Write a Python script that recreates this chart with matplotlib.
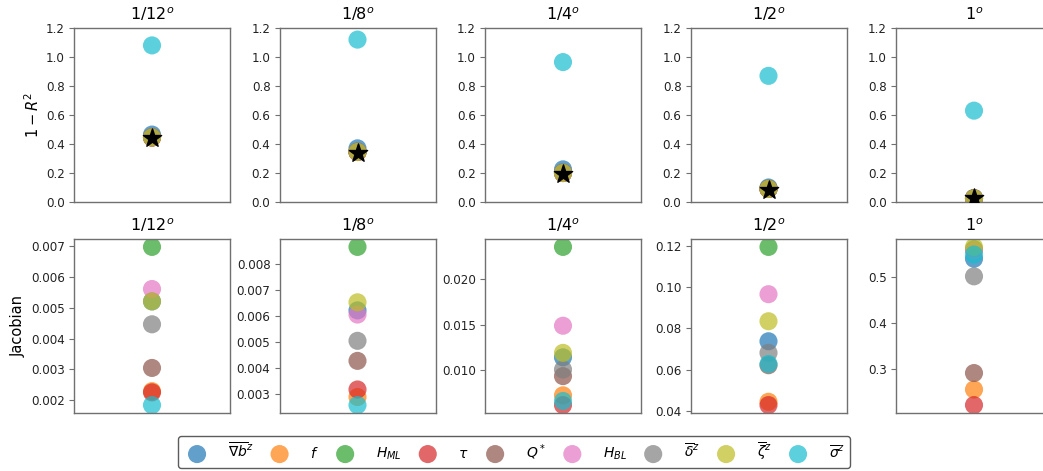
import matplotlib
matplotlib.use("Agg")
import matplotlib.pyplot as plt
from matplotlib.ticker import MultipleLocator

resolutions = ["1/12", "1/8", "1/4", "1/2", "1"]
features = [r"$\overline{\nabla b}^z$", r"$f$", r"$H_{ML}$", r"$\tau$", r"$Q^*$",
            r"$H_{BL}$", r"$\overline{\delta}^z$", r"$\overline{\zeta}^z$",
            r"$\overline{\sigma}^z$"]
colors = ["#1f77b4", "#ff7f0e", "#2ca02c", "#d62728", "#8c564b",
          "#e377c2", "#7f7f7f", "#bcbd22", "#17becf"]

# 1 - R^2 of each single-feature model, one list per resolution
r2_loss = {
    "1/12": [0.465, 0.445, 0.445, 0.445, 0.445, 0.445, 0.45, 0.445, 1.08],
    "1/8":  [0.37, 0.345, 0.345, 0.345, 0.345, 0.345, 0.35, 0.345, 1.12],
    "1/4":  [0.225, 0.20, 0.20, 0.20, 0.20, 0.20, 0.205, 0.20, 0.965],
    "1/2":  [0.10, 0.09, 0.09, 0.09, 0.09, 0.09, 0.092, 0.09, 0.87],
    "1":    [0.028, 0.025, 0.025, 0.025, 0.025, 0.025, 0.026, 0.025, 0.63],
}
# 1 - R^2 of the model using all features
r2_all = [0.44, 0.34, 0.195, 0.085, 0.025]

# mean absolute Jacobian of each feature, one list per resolution
jacobian = {
    "1/12": [0.0052, 0.0023, 0.00696, 0.00226, 0.00305, 0.0056, 0.00446, 0.0052, 0.00185],
    "1/8":  [0.00621, 0.00288, 0.00865, 0.00317, 0.00427, 0.00605, 0.00504, 0.00652, 0.00257],
    "1/4":  [0.01138, 0.00718, 0.02358, 0.0061, 0.0093, 0.01487, 0.01003, 0.01187, 0.00655],
    "1/2":  [0.0738, 0.0445, 0.1195, 0.0429, 0.0622, 0.0966, 0.0682, 0.0835, 0.0628],
    "1":    [0.5396, 0.2564, 0.56, 0.2226, 0.292, 0.558, 0.5015, 0.5652, 0.5487],
}
jacobian_tick_step = {"1/12": 0.001, "1/8": 0.001, "1/4": 0.005, "1/2": 0.02, "1": 0.1}

W, H = 1043, 471
fig = plt.figure(figsize=(W / 100, H / 100), dpi=100)

lefts = [74, 279.5, 485, 690.5, 896]
ax_w, ax_h = 156, 174
top_row_top, bot_row_top = 28, 239

spine_color = "#707070"
ms = 170
alpha = 0.7


def style(ax):
    for s in ax.spines.values():
        s.set_color(spine_color)
        s.set_linewidth(1.0)
    ax.set_xticks([])
    ax.tick_params(axis="y", colors=spine_color, labelcolor="#222222", labelsize=8.6,
                   pad=3)


handles = []
for i, res in enumerate(resolutions):
    ax = fig.add_axes([lefts[i] / W, (H - top_row_top - ax_h) / H, ax_w / W, ax_h / H])
    for j, name in enumerate(features):
        h = ax.scatter([0], [r2_loss[res][j]], s=ms, color=colors[j], alpha=alpha,
                       edgecolors="none", label=name)
        if i == 0:
            handles.append(h)
    ax.scatter([0], [r2_all[i]], marker="*", s=190, color="black", zorder=5)
    ax.set_ylim(0, 1.2)
    ax.set_yticks([0.0, 0.2, 0.4, 0.6, 0.8, 1.0, 1.2])
    ax.set_title(res + r"$^o$", fontsize=11.5)
    style(ax)
    if i == 0:
        ax.set_ylabel(r"$1-R^2$", fontsize=10.5, labelpad=3)

    bx = fig.add_axes([lefts[i] / W, (H - bot_row_top - ax_h) / H, ax_w / W, ax_h / H])
    for j, name in enumerate(features):
        bx.scatter([0], [jacobian[res][j]], s=ms, color=colors[j], alpha=alpha,
                   edgecolors="none")
    bx.yaxis.set_major_locator(MultipleLocator(jacobian_tick_step[res]))
    bx.set_title(res + r"$^o$", fontsize=11.5)
    style(bx)
    if i == 0:
        bx.set_ylabel("Jacobian", fontsize=10.5, labelpad=4)

leg = fig.legend(handles=handles, labels=features, loc="center",
                 bbox_to_anchor=(514 / W, (H - 452) / H), ncol=9, fontsize=10,
                 frameon=True, edgecolor="#333333", fancybox=True,
                 columnspacing=0.9, handletextpad=1.2, markerscale=1.0,
                 borderpad=0.35)
leg.get_frame().set_linewidth(1.0)

fig.savefig("out.png", dpi=100)
